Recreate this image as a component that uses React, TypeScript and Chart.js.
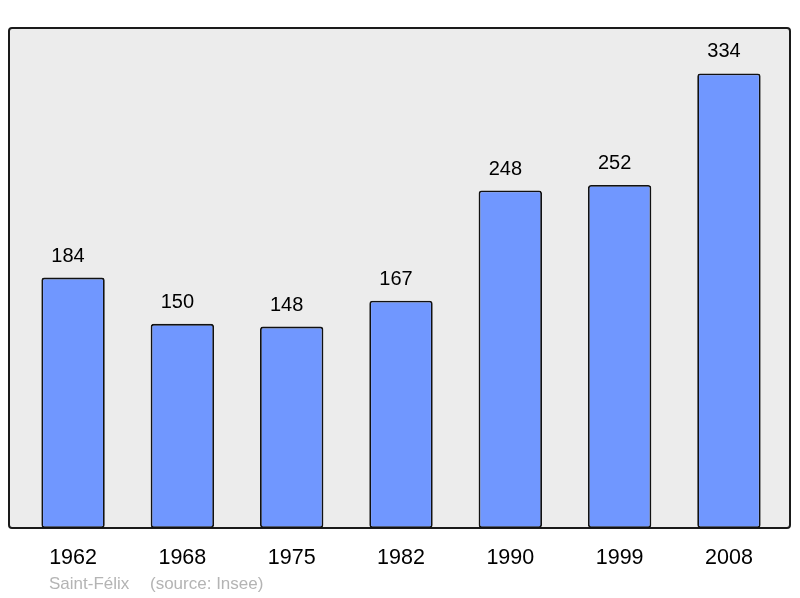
import React, { useEffect, useRef } from "react";
import { Chart, registerables } from "chart.js";

Chart.register(...registerables);

const years = ["1962", "1968", "1975", "1982", "1990", "1999", "2008"];
const population = [184, 150, 148, 167, 248, 252, 334];
const captionPlace = "Saint-Félix";
const captionSource = "(source: Insee)";

const FONT = "'Liberation Sans', Arial, sans-serif";

const framePlugin = {
  id: "frame",
  beforeDraw(chart: any) {
    const ctx = chart.ctx;
    const { top, bottom } = chart.chartArea;
    const x0 = 9, x1 = 790;
    ctx.save();
    ctx.beginPath();
    const r = 3;
    ctx.moveTo(x0 + r, top);
    ctx.lineTo(x1 - r, top);
    ctx.quadraticCurveTo(x1, top, x1, top + r);
    ctx.lineTo(x1, bottom - r);
    ctx.quadraticCurveTo(x1, bottom, x1 - r, bottom);
    ctx.lineTo(x0 + r, bottom);
    ctx.quadraticCurveTo(x0, bottom, x0, bottom - r);
    ctx.lineTo(x0, top + r);
    ctx.quadraticCurveTo(x0, top, x0 + r, top);
    ctx.closePath();
    ctx.fillStyle = "#ececec";
    ctx.fill();
    ctx.lineWidth = 2;
    ctx.strokeStyle = "#1a1a1a";
    ctx.stroke();
    ctx.restore();
  },
  afterDatasetsDraw(chart: any) {
    const ctx = chart.ctx;
    const meta = chart.getDatasetMeta(0);
    ctx.save();
    ctx.fillStyle = "#000";
    ctx.font = `20px ${FONT}`;
    ctx.textAlign = "center";
    ctx.textBaseline = "middle";
    meta.data.forEach((bar: any, i: number) => {
      ctx.fillText(String(population[i]), bar.x - 5, bar.y - 21.5);
    });
    ctx.fillStyle = "#b4b4b4";
    ctx.font = `17px ${FONT}`;
    ctx.textAlign = "left";
    ctx.fillText(captionPlace, 49, 584);
    ctx.fillText(captionSource, 150, 584);
    ctx.restore();
  },
};

export default function App() {
  const ref = useRef<HTMLCanvasElement | null>(null);
  useEffect(() => {
    if (!ref.current) return;
    const chart = new Chart(ref.current, {
      type: "bar",
      data: {
        labels: years,
        datasets: [
          {
            data: population,
            backgroundColor: "#7097ff",
            borderColor: "#111",
            borderWidth: 1.8,
            borderRadius: 3,
            borderSkipped: false,
            categoryPercentage: 1,
            barPercentage: 0.58,
          },
        ],
      },
      options: {
        animation: false,
        responsive: false,
        maintainAspectRatio: false,
        layout: { padding: { left: 18.4, right: 16.4, top: 28, bottom: 0 } },
        plugins: { legend: { display: false }, tooltip: { enabled: false } },
        scales: {
          x: {
            grid: { display: false, drawTicks: false },
            border: { display: false },
            ticks: {
              color: "#000",
              font: { family: FONT, size: 21.5 },
              padding: 17,
              maxRotation: 0,
            },
            afterFit(scale: any) {
              scale.height = 70;
            },
          },
          y: { display: false, min: 0, max: 367.4 },
        },
      },
      plugins: [framePlugin],
    });
    return () => chart.destroy();
  }, []);
  return (
    <div style={{ position: "fixed", left: 0, top: 0, width: 800, height: 598 }}>
      <canvas ref={ref} width={800} height={598} />
    </div>
  );
}
